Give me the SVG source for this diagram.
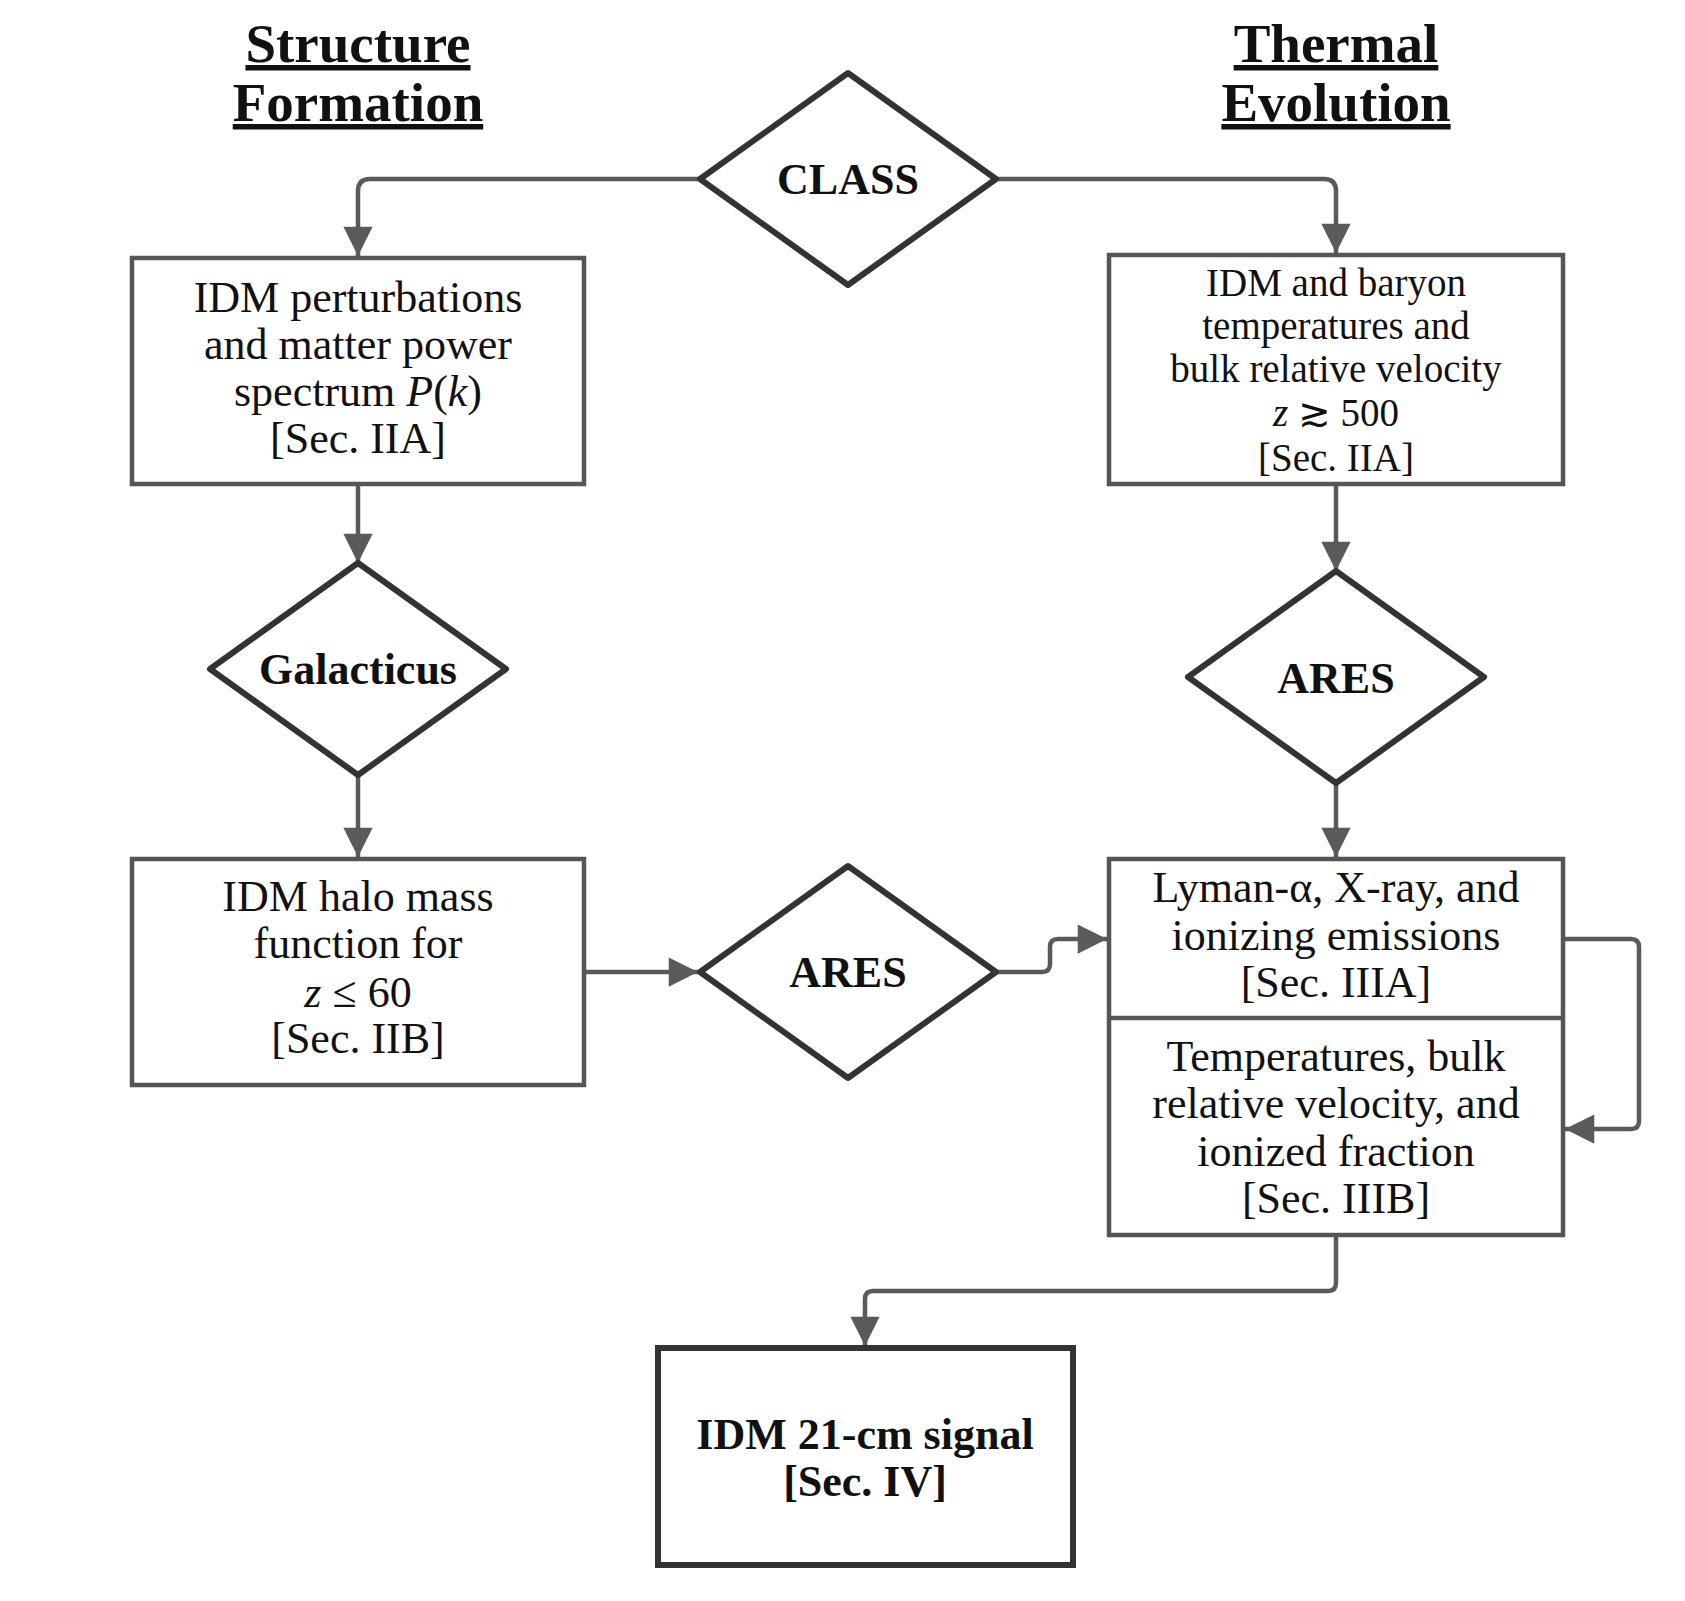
<svg xmlns="http://www.w3.org/2000/svg" width="1685" height="1601" viewBox="0 0 1685 1601">
<style>
.t{font-family:"Liberation Serif","DejaVu Serif",serif;font-size:44px;fill:#111;text-anchor:middle}
.s{font-size:39px}
.b{font-weight:bold}
.h{font-family:"Liberation Serif","DejaVu Serif",serif;font-size:55px;font-weight:bold;text-anchor:middle;text-decoration:underline;fill:#111}
.box{fill:#fff;stroke:#555;stroke-width:4.5}
.dia{fill:#fff;stroke:#333;stroke-width:6;stroke-linejoin:round}
.c{fill:none;stroke:#5a5a5a;stroke-width:4.5;stroke-linejoin:round}
</style>
<defs>
<marker id="a" viewBox="0 0 10 10" refX="10" refY="5" markerWidth="7" markerHeight="6.5" orient="auto" markerUnits="strokeWidth"><path d="M0,0 L10,5 L0,10 z" fill="#5a5a5a"/></marker>
</defs>
<rect width="1685" height="1601" fill="#fff"/>
<text class="h" x="358" y="62">Structure</text>
<text class="h" x="358" y="121">Formation</text>
<text class="h" x="1336" y="62">Thermal</text>
<text class="h" x="1336" y="121">Evolution</text>
<g id="connectors">
<path class="c" marker-end="url(#a)" d="M700,179 H370 Q358,179 358,191 V256"/>
<path class="c" marker-end="url(#a)" d="M996,179 H1324 Q1336,179 1336,191 V253"/>
<path class="c" marker-end="url(#a)" d="M358,484 V563"/>
<path class="c" marker-end="url(#a)" d="M358,776 V857"/>
<path class="c" marker-end="url(#a)" d="M1336,484 V571"/>
<path class="c" marker-end="url(#a)" d="M1336,783 V857"/>
<path class="c" marker-end="url(#a)" d="M584,972 H698"/>
<path class="c" marker-end="url(#a)" d="M996,972 H1042 Q1050,972 1050,964 V947 Q1050,939 1058,939 H1107"/>
<path class="c" marker-end="url(#a)" d="M1563,939 H1631 Q1639,939 1639,947 V1121 Q1639,1129 1631,1129 H1565"/>
<path class="c" marker-end="url(#a)" d="M1336,1235 V1283 Q1336,1291 1328,1291 H873 Q865,1291 865,1299 V1346"/>
</g>
<g id="class"><path class="dia" d="M848,73 L996,179 L848,285 L700,179 Z"/><text class="t b" x="848" y="194">CLASS</text></g>
<g id="box1"><rect class="box" x="132" y="258" width="452" height="226"/>
<text class="t" x="358" y="312">IDM perturbations</text>
<text class="t" x="358" y="359">and matter power</text>
<text class="t" x="358" y="406">spectrum <tspan font-style="italic">P</tspan>(<tspan font-style="italic">k</tspan>)</text>
<text class="t" x="358" y="453">[Sec. IIA]</text></g>
<g id="box2"><rect class="box" x="1109" y="255" width="454" height="229"/>
<text class="t s" x="1336" y="296">IDM and baryon</text>
<text class="t s" x="1336" y="339">temperatures and</text>
<text class="t s" x="1336" y="382">bulk relative velocity</text>
<text class="t s" x="1336" y="426"><tspan font-style="italic">z</tspan> ≳ 500</text>
<text class="t s" x="1336" y="471">[Sec. IIA]</text></g>
<g id="galacticus"><path class="dia" d="M358,563 L506,669 L358,775 L210,669 Z"/><text class="t b" x="358" y="684">Galacticus</text></g>
<g id="ares1"><path class="dia" d="M1336,571 L1484,677 L1336,783 L1188,677 Z"/><text class="t b" x="1336" y="693">ARES</text></g>
<g id="box3"><rect class="box" x="132" y="859" width="452" height="226"/>
<text class="t" x="358" y="911">IDM halo mass</text>
<text class="t" x="358" y="958">function for</text>
<text class="t" x="358" y="1007"><tspan font-style="italic">z</tspan> ≤ 60</text>
<text class="t" x="358" y="1053">[Sec. IIB]</text></g>
<g id="ares2"><path class="dia" d="M848,866 L996,972 L848,1078 L700,972 Z"/><text class="t b" x="848" y="987">ARES</text></g>
<g id="box4"><rect class="box" x="1109" y="859" width="454" height="376"/>
<line x1="1109" y1="1018" x2="1563" y2="1018" stroke="#555" stroke-width="4.5"/>
<text class="t" x="1336" y="902">Lyman-α, X-ray, and</text>
<text class="t" x="1336" y="950">ionizing emissions</text>
<text class="t" x="1336" y="997">[Sec. IIIA]</text>
<text class="t" x="1336" y="1071">Temperatures, bulk</text>
<text class="t" x="1336" y="1118">relative velocity, and</text>
<text class="t" x="1336" y="1166">ionized fraction</text>
<text class="t" x="1336" y="1213">[Sec. IIIB]</text></g>
<g id="final"><rect x="658" y="1348" width="415" height="217" fill="#fff" stroke="#333" stroke-width="6"/>
<text class="t b" x="865" y="1449">IDM 21-cm signal</text>
<text class="t b" x="865" y="1496">[Sec. IV]</text></g>
</svg>
